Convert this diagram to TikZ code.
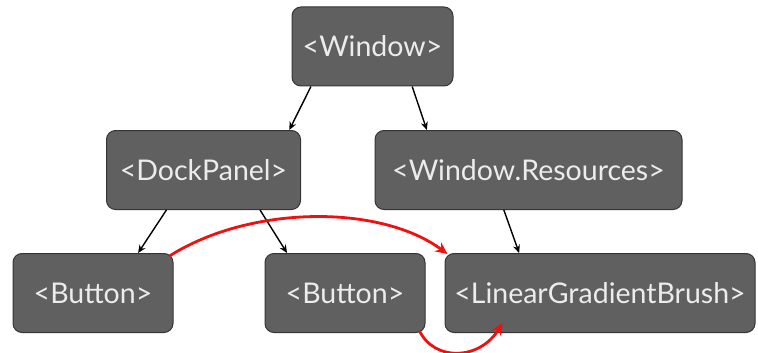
\documentclass[tikz,border=0pt]{standalone}
\usepackage{fontspec}
\setmainfont{Lato}
\usepackage{tikz}
\usetikzlibrary{arrows.meta,calc}
\definecolor{boxfill}{HTML}{606060}
\definecolor{boxline}{HTML}{353535}
\definecolor{boxtext}{HTML}{ECECEC}
\definecolor{linkred}{HTML}{F01010}

\begin{document}
\begin{tikzpicture}[x=1pt,y=-1pt,
    tag/.style={draw=boxline,line width=1pt,fill=boxfill,rounded corners=9pt,
      text=boxtext,font=\fontsize{28.5}{32}\selectfont,minimum height=79pt,inner sep=0pt},
    child/.style={-{Stealth[length=8pt,width=7pt]},line width=1.4pt,black},
    ref/.style={-{Stealth[length=12pt,width=11pt]},line width=2.8pt,linkred}]
  \useasboundingbox (0,0) rectangle (758,353);
  % the tree
  \node[tag,minimum width=161pt] (win) at (372.5,46.5) {<Window>};
  \node[tag,minimum width=194pt] (dock) at (203.5,170) {<DockPanel>};
  \node[tag,minimum width=307pt] (res) at (528.5,170) {<Window.Resources>};
  \node[tag,minimum width=160pt] (btnA) at (93,293) {<Button>};
  \node[tag,minimum width=160pt] (btnB) at (345,293) {<Button>};
  \node[tag,minimum width=310pt] (brush) at (600,293) {<LinearGradientBrush>};
  % parent to child
  \draw[child] ($(win.south west)!0.12!(win.south east)$) -- ($(dock.north west)!0.94!(dock.north east)$);
  \draw[child] ($(win.south west)!0.745!(win.south east)$) -- ($(res.north west)!0.17!(res.north east)$);
  \draw[child] ($(dock.south west)!0.31!(dock.south east)$) -- ($(btnA.north west)!0.78!(btnA.north east)$);
  \draw[child] ($(dock.south west)!0.79!(dock.south east)$) -- ($(btnB.north west)!0.14!(btnB.north east)$);
  \draw[child] ($(res.south west)!0.42!(res.south east)$) -- ($(brush.north west)!0.24!(brush.north east)$);
  % resource references
  \draw[ref] ($(btnA.north east)+(-4,3)$) .. controls (250,205) and (380,204) .. ($(brush.north west)+(3,1)$);
  \draw[ref] ($(btnB.south east)+(-6,-2)$) .. controls (435,362) and (480,360) .. ($(brush.south west)+(58,-10)$);
\end{tikzpicture}
\end{document}
